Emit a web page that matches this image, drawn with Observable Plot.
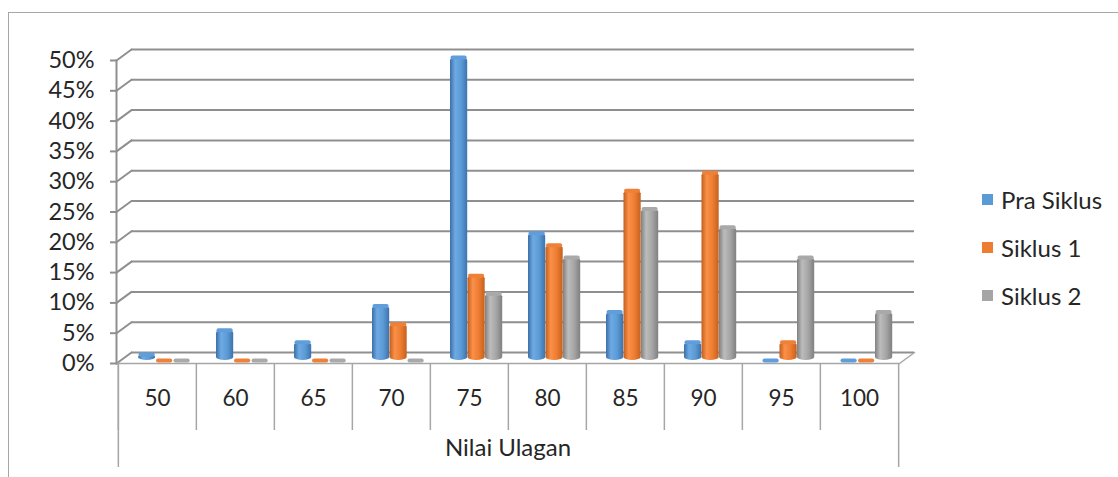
<!DOCTYPE html>
<html>
<head>
<meta charset="utf-8">
<script src="https://cdn.jsdelivr.net/npm/d3@7"></script>
<script src="https://cdn.jsdelivr.net/npm/@observablehq/plot@0.6"></script>
<style>
  html, body { margin: 0; padding: 0; background: #fff; }
  #wrap { position: relative; width: 1118px; height: 477px; overflow: hidden; font-family: Lato, "Open Sans", sans-serif; }
  #border { position: absolute; left: 8px; top: 12px; width: 1300px; height: 700px; border-left: 1px solid #a6a6a6; border-top: 1px solid #a6a6a6; pointer-events: none; }
  #legend { position: absolute; left: 982px; top: 175px; font-size: 24px; color: #262626; }
  #legend .row { display: flex; align-items: center; height: 48px; }
  #legend .sw { width: 11px; height: 11px; margin-right: 8px; }
  svg.plot { display: block; }
</style>
</head>
<body>
<svg width="0" height="0" style="position:absolute">
  <defs>
    <linearGradient id="gBlue" x1="0" x2="1" y1="0" y2="0">
      <stop offset="0" stop-color="#3b6fa8"/>
      <stop offset="0.3" stop-color="#6eaae4"/>
      <stop offset="0.65" stop-color="#5b9bd5"/>
      <stop offset="1" stop-color="#3d72ad"/>
    </linearGradient>
    <linearGradient id="gOrange" x1="0" x2="1" y1="0" y2="0">
      <stop offset="0" stop-color="#c15e1c"/>
      <stop offset="0.3" stop-color="#fb9048"/>
      <stop offset="0.65" stop-color="#ed7d31"/>
      <stop offset="1" stop-color="#c4611f"/>
    </linearGradient>
    <linearGradient id="gGray" x1="0" x2="1" y1="0" y2="0">
      <stop offset="0" stop-color="#808080"/>
      <stop offset="0.3" stop-color="#bcbcbc"/>
      <stop offset="0.65" stop-color="#a5a5a5"/>
      <stop offset="1" stop-color="#808080"/>
    </linearGradient>
  </defs>
</svg>
<div id="wrap">
  <div id="chart"></div>
  <div id="border"></div>
  <div id="legend"></div>
</div>
<script>
// ---- data ----
const categories = ["50", "60", "65", "70", "75", "80", "85", "90", "95", "100"];
const seriesNames = ["Pra Siklus", "Siklus 1", "Siklus 2"];
const praSiklus = [1, 5, 3, 9, 50, 21, 8, 3, 0, 0];
const siklus1   = [0, 0, 0, 6, 14, 19, 28, 31, 3, 0];
const siklus2   = [0, 0, 0, 0, 11, 17, 25, 22, 17, 8];
const yTicks = [0, 5, 10, 15, 20, 25, 30, 35, 40, 45, 50];
const xTitle = "Nilai Ulagan";

// ---- styling ----
const legendColors = ["#5B9BD5", "#ED7D31", "#A5A5A5"];
const gradients = ["url(#gBlue)", "url(#gOrange)", "url(#gGray)"];
const capColors = ["#5f9edb", "#ee8038", "#a9a9a9"];
const gridColor = "#8f8f8f";
const lineColor = "#a6a6a6";

const W = 1118, H = 477, mL = 116, mR = 219, mT = 60, mB = 114;
const bw = (W - mL - mR) / categories.length;
// sub-positions of the three cylinders inside one category band
const slots = [[20, bw - 37.5], [37.5, bw - 55], [55, bw - 72.5]];

const allValues = [praSiklus, siklus1, siklus2];
const rows = seriesNames.map((s, si) => categories.map((c, i) => ({series: s, cat: c, value: allValues[si][i]})));

const dep = {dx: 15, dy: -11};
const diag = {draw(ctx, l) { ctx.moveTo(0, 0); ctx.lineTo(0, -l); }};
const diagLen = Math.hypot(dep.dx, dep.dy);
const diagRot = Math.atan2(dep.dx, -dep.dy) * 180 / Math.PI;

const marks = [
  // back wall gridlines
  Plot.ruleY(yTicks, {y: d => d, dx: dep.dx, dy: dep.dy, stroke: gridColor, strokeWidth: 2}),
  // side wall diagonals
  Plot.vector(yTicks, {y: d => d, frameAnchor: "left", length: diagLen, rotate: diagRot, anchor: "start", shape: diag, stroke: gridColor, strokeWidth: 2}),
  // floor right diagonal
  Plot.vector([0], {y: d => d, frameAnchor: "right", length: diagLen, rotate: diagRot, anchor: "start", shape: diag, stroke: lineColor, strokeWidth: 1.5}),
  // floor front edge
  Plot.ruleY([0], {y: d => d, stroke: lineColor, strokeWidth: 1.5}),
  // front vertical axis
  Plot.frame({anchor: "left", stroke: gridColor, strokeWidth: 2}),
  Plot.axisY(yTicks, {tickSize: 6, tickPadding: 16, tickFormat: d => d + "%", stroke: gridColor, strokeWidth: 2, fill: "#262626", fontSize: 23.5, label: null}),
  // category table separators
  Plot.ruleX(categories, {x: d => d, dx: -bw / 2, insetTop: H - mB - mT, insetBottom: -67, stroke: lineColor, strokeWidth: 1.5}),
  Plot.ruleX([categories[0]], {x: d => d, dx: -bw / 2, insetTop: H - mB - mT, insetBottom: -104, stroke: lineColor, strokeWidth: 1.5}),
  Plot.ruleX([categories[categories.length - 1]], {x: d => d, dx: bw / 2, insetTop: H - mB - mT, insetBottom: -104, stroke: lineColor, strokeWidth: 1.5}),
  Plot.axisX({tickSize: 0, tickPadding: 27, fontSize: 22.5, fill: "#262626", label: null}),
  Plot.text([xTitle], {frameAnchor: "bottom", dy: 92, fontSize: 24, fill: "#262626"})
];

// cylinders
seriesNames.forEach((s, si) => {
  marks.push(Plot.barY(rows[si], {x: "cat", y: "value", fill: gradients[si], insetLeft: slots[si][0], insetRight: slots[si][1], dy: -3, rx: 8.7, ry: 3}));
  marks.push(Plot.tickY(rows[si], {x: "cat", y: "value", stroke: capColors[si], strokeWidth: 4, strokeLinecap: "round", insetLeft: slots[si][0] + 2.5, insetRight: slots[si][1] + 2.5, dy: -3}));
});

const chart = Plot.plot({
  width: W, height: H,
  marginLeft: mL, marginRight: mR, marginTop: mT, marginBottom: mB,
  style: {fontFamily: "Lato, 'Open Sans', sans-serif", fontSize: "22px", color: "#262626", background: "transparent"},
  x: {type: "band", domain: categories, padding: 0, axis: null},
  y: {domain: [0, 50], axis: null},
  marks
});
document.getElementById("chart").appendChild(chart);

const legend = document.getElementById("legend");
seriesNames.forEach((s, i) => {
  const row = document.createElement("div");
  row.className = "row";
  row.innerHTML = `<div class="sw" style="background:${legendColors[i]}"></div><span>${s}</span>`;
  legend.appendChild(row);
});
</script>
</body>
</html>
